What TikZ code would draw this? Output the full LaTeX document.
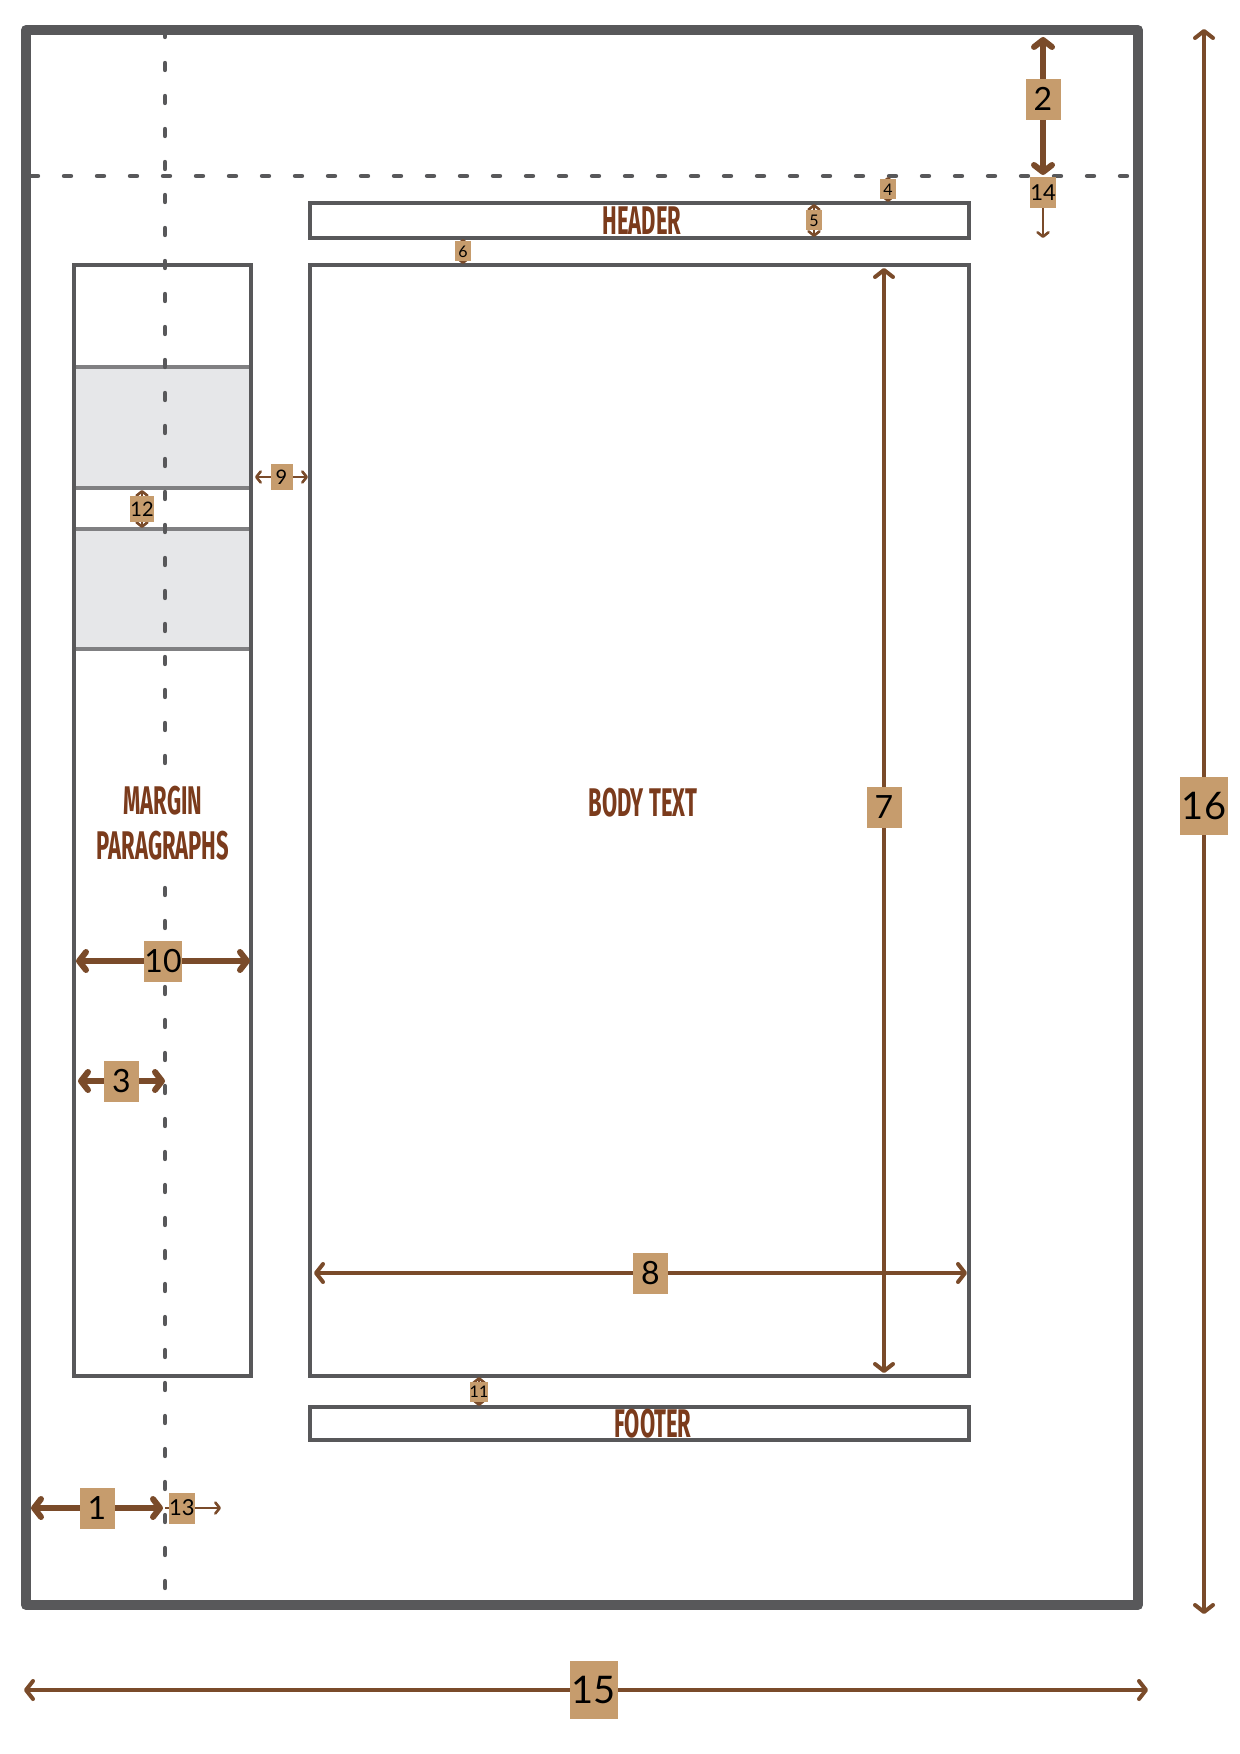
\documentclass[tikz,border=0pt]{standalone}
\usepackage{fontspec}
\setmainfont{Lato}
\newfontfamily\titlefont{Fira Sans}
\usetikzlibrary{arrows.meta}
\definecolor{pagegray}{HTML}{58585A}
\definecolor{rulegray}{HTML}{808082}
\definecolor{shadegray}{HTML}{E6E7E9}
\definecolor{dimbrown}{HTML}{7A4B2A}
\definecolor{tagtan}{HTML}{C69C6D}
\definecolor{titlebrown}{HTML}{7B3B1C}
\newcommand{\cond}[1]{\scalebox{0.55}[1]{#1}}

\begin{document}
\begin{tikzpicture}
		[x=0.5pt,y=-0.5pt,
		frame/.style ={draw=pagegray, line width=5pt, line join=round},
		box/.style ={draw=pagegray, line width=1.75pt},
		sepline/.style ={draw=rulegray, line width=1.6pt},
		guide/.style ={draw=pagegray, line width=2.2pt, line cap=round, dash pattern=on 3.5pt off 13pt},
		bigdim/.style ={draw=dimbrown, line width=3pt, >={Straight Barb[round,length=3.5pt,width=9pt]}},
		longdim/.style ={draw=dimbrown, line width=2pt, >={Straight Barb[round,length=3.5pt,width=9pt]}},
		smalldim/.style ={draw=dimbrown, line width=1.3pt, >={Straight Barb[round,length=2.2pt,width=5.5pt]}},
		tag/.style ={fill=tagtan, inner sep=0pt, text=black},
		bigtag/.style ={tag, minimum width=17.5pt, minimum height=20.5pt, font=\fontsize{16}{16}\selectfont},
		hugetag/.style ={tag, minimum width=24pt, minimum height=29pt, font=\fontsize{19}{19}\selectfont},
		midtag/.style ={tag, minimum width=13pt, minimum height=15.5pt, font=\fontsize{11}{11}\selectfont},
		smalltag/.style ={tag, minimum width=11pt, minimum height=13pt, font=\fontsize{10}{10}\selectfont},
		tinytag/.style ={tag, minimum width=8pt, minimum height=10pt, font=\fontsize{8}{8}\selectfont},
		title/.style ={text=titlebrown, inner sep=0pt, align=center, font=\titlefont\bfseries\fontsize{20}{22.5}\selectfont}]
		\useasboundingbox (0,0) rectangle (1240,1754);

		% margin paragraphs
		\fill[shadegray] (74,367) rectangle (251,488);
		\fill[shadegray] (74,529) rectangle (251,649);
		\draw[sepline] (74,367) -- (251,367) (74,488) -- (251,488)
		(74,529) -- (251,529) (74,649) -- (251,649);
		\draw[box] (74,265) rectangle (251,1376);

		% header, body, footer
		\draw[box] (310,203) rectangle (969,238);
		\draw[box] (310,265) rectangle (969,1376);
		\draw[box] (310,1407) rectangle (969,1440);

		% page and guides
		\draw[guide] (165,30) -- (165,1603);
		\draw[guide] (31,176) -- (1133,176);
		\draw[frame] (26,30) rectangle (1138,1605);

		\node[title] (header) at (642,221) {\cond{HEADER}};
		\node[title] (body) at (643,803) {\cond{BODY TEXT}};
		\node[title, fill=white, inner sep=3pt] (margin) at (163,823) {\cond{MARGIN}\\\cond{PARAGRAPHS}};
		\node[title] (footer) at (653,1424) {\cond{FOOTER}};

		% dimensions
		\draw[bigdim, <->] (31,1508) -- node[bigtag] (d1) {1} (163,1508);
		\draw[bigdim, <->] (1043,37) -- node[bigtag, pos=.45] (d2) {2} (1043,175);
		\draw[bigdim, <->] (78,1081) -- node[bigtag] (d3) {3} (165,1081);
		\draw[smalldim, <->] (888,177) -- node[tinytag] (d4) {4} (888,202);
		\draw[smalldim, <->] (814,204) -- node[tinytag] (d5) {5} (814,237);
		\draw[smalldim, <->] (463,239) -- node[tinytag] (d6) {6} (463,264);
		\draw[longdim, <->] (884,268) -- node[bigtag, pos=.488] (d7) {7} (884,1373);
		\draw[longdim, <->] (314,1273) -- node[bigtag, pos=.515] (d8) {8} (967,1273);
		\draw[smalldim, <->] (255,477) -- node[smalltag] (d9) {9} (308,477);
		\draw[bigdim, <->] (76,961) -- node[bigtag] (d10) {10} (250,961);
		\draw[smalldim, <->] (479,1377) -- node[tinytag] (d11) {11} (479,1406);
		\draw[smalldim, <->] (142,490) -- node[smalltag] (d12) {12} (142,528);
		\draw[smalldim, ->] (165,1508) -- node[midtag, pos=.3] (d13) {13} (221,1508);
		\draw[smalldim, ->] (1043,178) -- node[midtag, pos=.25] (d14) {14} (1043,238);
		\draw[longdim, <->] (24,1690) -- node[hugetag, pos=.507] (d15) {15} (1148,1690);
		\draw[longdim, <->] (1204,29) -- node[hugetag, pos=.49] (d16) {16} (1204,1614);

	\end{tikzpicture}
\end{document}
